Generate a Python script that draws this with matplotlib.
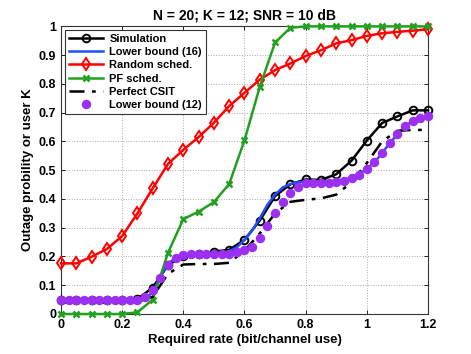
import numpy as np
import matplotlib
matplotlib.use("Agg")
import matplotlib.pyplot as plt

plt.rcParams['font.family'] = ['Liberation Sans', 'DejaVu Sans']
plt.rcParams['font.weight'] = 'bold'

# rates on a 0.05 grid (markers) and on a 0.025 grid (bounds)
rate = np.round(np.arange(0, 1.2001, 0.05), 3)
rate_fine = np.round(np.arange(0, 1.2001, 0.025), 3)

simulation = [0.049, 0.049, 0.049, 0.05, 0.05, 0.052, 0.092, 0.17, 0.202, 0.208,
              0.217, 0.223, 0.258, 0.325, 0.41, 0.451, 0.468, 0.466, 0.486, 0.533,
              0.603, 0.664, 0.687, 0.708, 0.708]

random_sched = [0.176, 0.176, 0.199, 0.226, 0.271, 0.35, 0.437, 0.522, 0.571, 0.615,
                0.665, 0.723, 0.769, 0.815, 0.848, 0.871, 0.897, 0.917, 0.941, 0.952,
                0.967, 0.976, 0.981, 0.985, 0.99]

pf_sched = [0, 0, 0, 0, 0, 0.006, 0.05, 0.213, 0.33, 0.356,
            0.389, 0.452, 0.604, 0.79, 0.944, 0.995, 1, 1, 1, 1,
            1, 1, 1, 1, 1]

perfect_csit = [0.04, 0.04, 0.04, 0.04, 0.04, 0.042, 0.06, 0.14, 0.172, 0.174,
                0.174, 0.178, 0.22, 0.28, 0.35, 0.39, 0.397, 0.402, 0.415, 0.458,
                0.525, 0.6, 0.637, 0.64, 0.64]

lb12 = [0.047] * 11 + [0.06, 0.083, 0.124, 0.17, 0.196, 0.205, 0.208, 0.209, 0.209, 0.209,
                       0.209, 0.21, 0.215, 0.222, 0.234, 0.263, 0.305, 0.35, 0.391, 0.42,
                       0.443, 0.455, 0.455, 0.457, 0.457, 0.46, 0.463, 0.472, 0.484, 0.505,
                       0.527, 0.56, 0.594, 0.625, 0.652, 0.672, 0.683, 0.69]

lb16 = [0.048] * 11 + [0.055, 0.075, 0.13, 0.175, 0.195, 0.203, 0.206, 0.208, 0.209, 0.21,
                       0.212, 0.218, 0.232, 0.258, 0.29, 0.333, 0.38, 0.415, 0.44, 0.452,
                       0.458, 0.46, 0.46, 0.46, 0.462, 0.464, 0.467, 0.474, 0.486, 0.505,
                       0.527, 0.56, 0.594, 0.625, 0.652, 0.672, 0.683, 0.69]

fig = plt.figure(figsize=(4.71, 3.54), dpi=100)
ax = fig.add_axes([0.1295, 0.113, 0.7792, 0.8125])

ax.plot(rate, simulation, color='k', lw=1.8, marker='o', ms=5.5, mfc='none', mew=1.4,
        label='Simulation', zorder=3, clip_on=False)
ax.plot(rate_fine, lb16, color='#1f4fff', lw=1.8, label='Lower bound (16)', zorder=3)
ax.plot(rate, random_sched, color='r', lw=1.8, marker='d', ms=6, mfc='none', mew=1.4,
        label='Random sched.', zorder=3, clip_on=False)
ax.plot(rate, pf_sched, color='#22a020', lw=1.8, marker='x', ms=4.5, mew=1.8,
        label='PF sched.', zorder=3, clip_on=False)
ax.plot(rate, perfect_csit, color='k', lw=1.8, ls='-.', dashes=(6, 3, 1.5, 3),
        label='Perfect CSIT', zorder=3)
ax.plot(rate_fine, lb12, ls='none', marker='o', ms=5.8, color='#9b30f0',
        label='Lower bound (12)', zorder=4, clip_on=False)

ax.set_xlim(0, 1.2)
ax.set_ylim(0, 1)
ax.set_xticks([0, 0.2, 0.4, 0.6, 0.8, 1, 1.2])
ax.set_xticklabels(['0', '0.2', '0.4', '0.6', '0.8', '1', '1.2'])
ax.set_yticks(np.round(np.arange(0, 1.01, 0.1), 1))
ax.set_yticklabels(['0', '0.1', '0.2', '0.3', '0.4', '0.5', '0.6', '0.7', '0.8', '0.9', '1'])
ax.tick_params(direction='in', labelsize=9, length=3, top=True, right=True, width=0.6)
for s in ax.spines.values():
    s.set_linewidth(0.8)
    s.set_color('#333333')
ax.grid(True, ls=':', color='#aaaaaa', lw=0.7)

ax.set_title('N = 20; K = 12; SNR = 10 dB', fontsize=10, fontweight='bold', pad=5)
ax.set_xlabel('Required rate (bit/channel use)', fontsize=9.5, fontweight='bold', labelpad=2)
ax.set_ylabel('Outage probility or user K', fontsize=9.5, fontweight='bold', labelpad=3)

leg = ax.legend(loc='upper left', bbox_to_anchor=(0.012, 0.988), fontsize=8, frameon=True,
                fancybox=False, edgecolor='#333333', borderpad=0.35, labelspacing=0.3,
                handlelength=3.0, handletextpad=0.6, borderaxespad=0, framealpha=1)
leg.get_frame().set_linewidth(0.8)

fig.savefig('out.png', dpi=100)
